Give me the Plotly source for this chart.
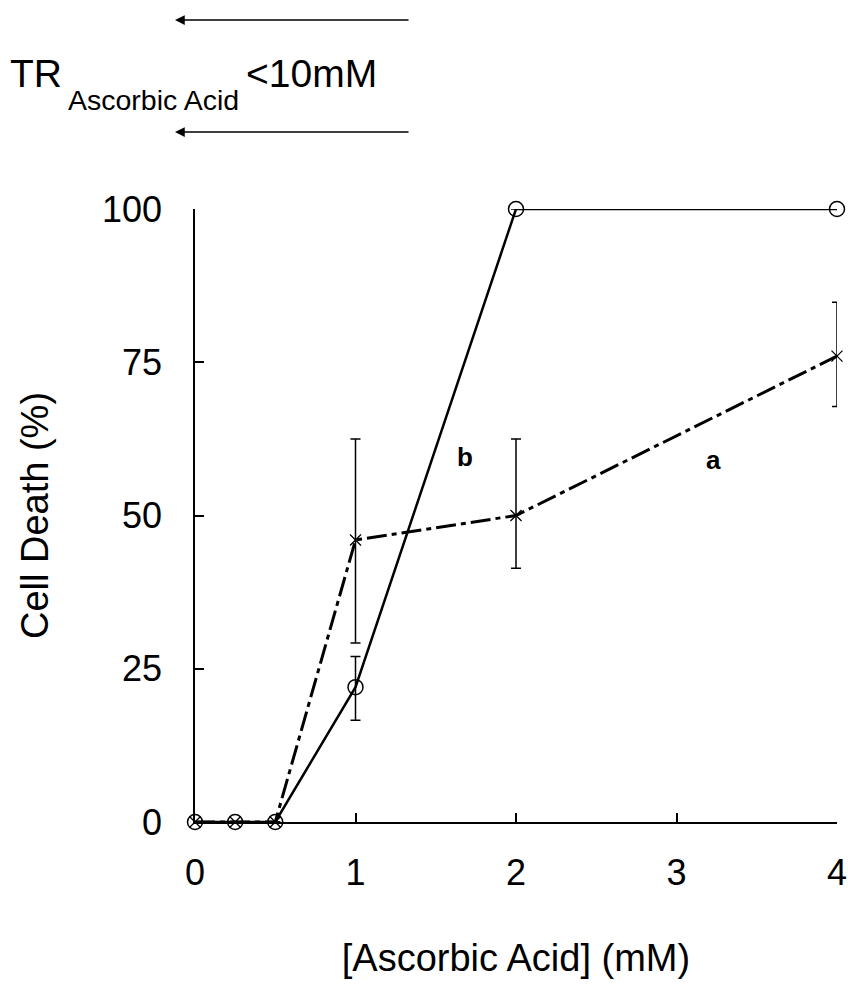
import plotly.graph_objects as go

# Data
conc_a = [0, 0.25, 0.5, 1, 2, 4]
death_a = [0, 0, 0, 46, 50, 76]
err_a_plus = [0, 0, 0, 16.5, 12.5, 8.8]
err_a_minus = [0, 0, 0, 16.8, 8.6, 8.2]

conc_b = [0, 0.25, 0.5, 1, 2, 4]
death_b = [0, 0, 0, 22, 100, 100]
err_b_plus = [0, 0, 0, 5, 0, 0]
err_b_minus = [0, 0, 0, 5.4, 0, 0]

x_ticks = [0, 1, 2, 3, 4]
y_ticks = [0, 25, 50, 75, 100]

FONT = "Liberation Sans, Arial, sans-serif"

fig = go.Figure()

fig.add_trace(go.Scatter(
    x=conc_a, y=death_a, mode="lines+markers",
    line=dict(color="black", width=3, dash="20px,5px,5px,5px"),
    marker=dict(symbol="x-thin-open", size=11, line=dict(color="black", width=1.3)),
    error_y=dict(type="data", symmetric=False, array=err_a_plus, arrayminus=err_a_minus,
                 color="black", thickness=1.5, width=5),
    cliponaxis=False, showlegend=False,
))

fig.add_trace(go.Scatter(
    x=conc_b, y=death_b, mode="lines+markers",
    line=dict(color="black", width=2.5),
    marker=dict(symbol="circle-open", size=15, line=dict(color="black", width=1.5)),
    error_y=dict(type="data", symmetric=False, array=err_b_plus, arrayminus=err_b_minus,
                 color="black", thickness=1.5, width=5),
    cliponaxis=False, showlegend=False,
))

L, R, T, B = 195, 11, 209, 163
W, H = 848, 985
PW, PH = W - L - R, H - T - B

def px(xp):
    return (xp - L) / PW

def py(yp):
    return (H - B - yp) / PH

fig.update_layout(
    width=W, height=H,
    margin=dict(l=L, r=R, t=T, b=B, pad=0),
    paper_bgcolor="white", plot_bgcolor="white",
    font=dict(family=FONT, color="black", size=36),
    xaxis=dict(
        range=[0, 4], tickvals=x_ticks, ticktext=[str(v) for v in x_ticks],
        showgrid=False, zeroline=False, showline=True, linecolor="black", linewidth=1.5,
        ticks="inside", ticklen=9, tickwidth=1.5, tickcolor="black",
        tickfont=dict(size=36), ticklabelstandoff=18, automargin=False,
        title=dict(text="[Ascorbic Acid] (mM)", font=dict(size=38), standoff=52),
    ),
    yaxis=dict(
        range=[0, 100], tickvals=y_ticks, ticktext=[str(v) for v in y_ticks],
        showgrid=False, zeroline=False, showline=True, linecolor="black", linewidth=1.5,
        ticks="inside", ticklen=9, tickwidth=1.5, tickcolor="black",
        tickfont=dict(size=36), ticklabelstandoff=24, automargin=False,
        title=dict(text="Cell Death (%)", font=dict(size=38), standoff=42),
    ),
)

# series labels
fig.add_annotation(x=1.68, y=59.5, text="<b>b</b>", showarrow=False,
                   font=dict(size=26), xref="x", yref="y")
fig.add_annotation(x=3.23, y=59, text="<b>a</b>", showarrow=False,
                   font=dict(size=26), xref="x", yref="y")

# top label
fig.add_annotation(x=px(8), y=py(73), text="TR", showarrow=False, xref="paper", yref="paper",
                   xanchor="left", yanchor="middle", font=dict(size=39))
fig.add_annotation(x=px(66), y=py(100), text="Ascorbic Acid", showarrow=False, xref="paper",
                   yref="paper", xanchor="left", yanchor="middle", font=dict(size=28.5))
fig.add_annotation(x=px(244), y=py(73), text="&lt;10mM", showarrow=False, xref="paper",
                   yref="paper", xanchor="left", yanchor="middle", font=dict(size=39))

# arrows
for yy in (20, 132):
    fig.add_annotation(x=px(175), y=py(yy), xref="paper", yref="paper", text="",
                       showarrow=True, ax=235, ay=0, arrowhead=2, arrowsize=1.3,
                       arrowwidth=1.5, arrowcolor="black")

fig.write_html("out.html")
